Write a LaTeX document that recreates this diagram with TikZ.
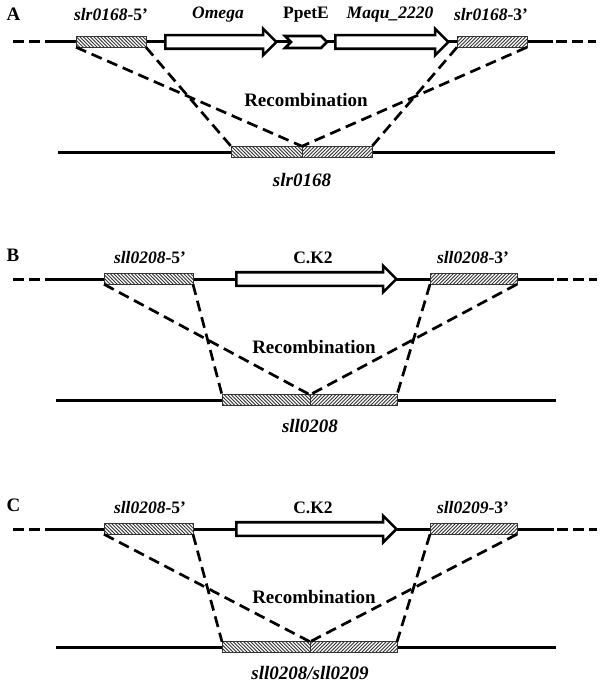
\documentclass[tikz,border=0pt]{standalone}
\usepackage{fontspec}
\setmainfont{Liberation Serif}
\usetikzlibrary{patterns,shapes.arrows,shapes.symbols}
\tikzset{>=latex}
\pgfdeclarepatternformonly{hatchL}{\pgfqpoint{-1pt}{-1pt}}{\pgfqpoint{4.5pt}{4.5pt}}{\pgfqpoint{3.5pt}{3.5pt}}{
    \pgfsetlinewidth{0.9pt}
    \pgfpathmoveto{\pgfqpoint{0pt}{3.5pt}}
    \pgfpathlineto{\pgfqpoint{3.6pt}{-0.1pt}}
    \pgfusepath{stroke}}
\pgfdeclarepatternformonly{hatchR}{\pgfqpoint{-1pt}{-1pt}}{\pgfqpoint{4.5pt}{4.5pt}}{\pgfqpoint{3.5pt}{3.5pt}}{
    \pgfsetlinewidth{0.9pt}
    \pgfpathmoveto{\pgfqpoint{0pt}{0pt}}
    \pgfpathlineto{\pgfqpoint{3.6pt}{3.6pt}}
    \pgfusepath{stroke}}
\tikzset{
    chrom/.style={line width=3pt},
    flank/.style={line width=3pt,dash pattern=on 11pt off 5pt},
    cross/.style={line width=2.7pt,dash pattern=on 11pt off 6pt},
    hom/.style={draw=black!80,line width=0.9pt,inner sep=0pt,outer sep=0pt,minimum height=10.5pt,preaction={fill=white},pattern color=black!80},
    homL/.style={hom,pattern=hatchL},
    homR/.style={hom,pattern=hatchR},
    gene/.style={single arrow,draw,fill=white,line width=2.6pt,inner xsep=0pt,inner ysep=5.5pt,single arrow head extend=6.5pt,minimum width=0pt,outer sep=0pt},
    prom/.style={signal,signal from=west,signal to=east,draw,fill=white,line width=2.6pt,inner sep=0pt,outer sep=0pt},
    tag/.style={font=\fontsize{17.5}{20}\selectfont\bfseries},
    big/.style={font=\fontsize{19}{22}\selectfont\bfseries}
}
\begin{document}
\begin{tikzpicture}[x=1pt,y=-1pt]
            \useasboundingbox (0,0) rectangle (600,685);
            \draw[flank] (13,42) -- (53,42);
            \draw[chrom] (53,42) -- (553,42);
            \draw[flank] (556,42) -- (596,42);
            \node[homL,minimum width=70pt] (a5) at (111,42) {};
            \node[gene,minimum height=111pt] (omega) at (217.5,42) {};
            \node[prom,minimum width=42pt,minimum height=12pt] (ppet) at (306,42) {};
            \node[gene,minimum height=113pt] (maqu) at (388.5,42) {};
            \node[homR,minimum width=70pt] (a3) at (492,42) {};
            \draw[chrom] (58,152) -- (555,152);
            \node[homL,minimum width=71pt,minimum height=11.5pt,anchor=east] (aL) at (302,152) {};
            \node[homR,minimum width=70pt,minimum height=11.5pt,anchor=west] (aR) at (302,152) {};
            \draw[cross] (a5.south west) -- (aL.north east);
            \draw[cross] (a5.south east) -- (aL.north west);
            \draw[cross] (a3.south west) -- (aR.north east);
            \draw[cross] (a3.south east) -- (aR.north west);
            \node[tag,anchor=west,font=\fontsize{19}{22}\selectfont\bfseries] (pA) at (3,14) {A};
            \node[tag] (ta5) at (111,15) {\textit{slr0168}-5’};
            \node[tag] (tomega) at (218,15) {\textit{Omega}};
            \node[tag] (tppet) at (306,15) {PpetE};
            \node[tag] (tmaqu) at (390,15) {\textit{Maqu\_2220}};
            \node[tag] (ta3) at (491,15) {\textit{slr0168}-3’};
            \node[big] (recA) at (306,100) {Recombination};
            \node[big] (gA) at (302,180) {\textit{slr0168}};
            \foreach \p/\t/\b/\fa/\fb/\gn in {B/279/400/sll0208/sll0208/sll0208,C/529/647/sll0208/sll0209/{sll0208/sll0209}}{
                \draw[flank] (13,\t) -- (53,\t);
                \draw[chrom] (53,\t) -- (554,\t);
                \draw[flank] (557,\t) -- (597,\t);
                \node[homL,minimum width=89pt] (\p5) at (148.5,\t) {};
                \node[gene,minimum height=160pt] (ck\p) at (313,\t) {};
                \node[homR,minimum width=87pt] (\p3) at (473.5,\t) {};
                \draw[chrom] (56,\b) -- (556,\b);
                \node[homL,minimum width=88pt,anchor=east] (\p L) at (310,\b) {};
                \node[homR,minimum width=87pt,anchor=west] (\p R) at (310,\b) {};
                \draw[cross] (\p5.south west) -- (\p L.north east);
                \draw[cross] (\p5.south east) -- (\p L.north west);
                \draw[cross] (\p3.south west) -- (\p R.north east);
                \draw[cross] (\p3.south east) -- (\p R.north west);
                \node[tag,anchor=west,font=\fontsize{19}{22}\selectfont\bfseries] (p\p) at (3,\t-24) {\p};
                \node[tag] (t\p5) at (150,\t-21) {\textit{\fa}-5’};
                \node[tag] (tck\p) at (313,\t-21) {C.K2};
                \node[tag] (t\p3) at (473,\t-21) {\textit{\fb}-3’};
                \node[big] (rec\p) at (314,\t+68) {Recombination};
                \node[big] (g\p) at (310,\b+26) {\textit{\gn}};
            }
\end{tikzpicture}
\end{document}
